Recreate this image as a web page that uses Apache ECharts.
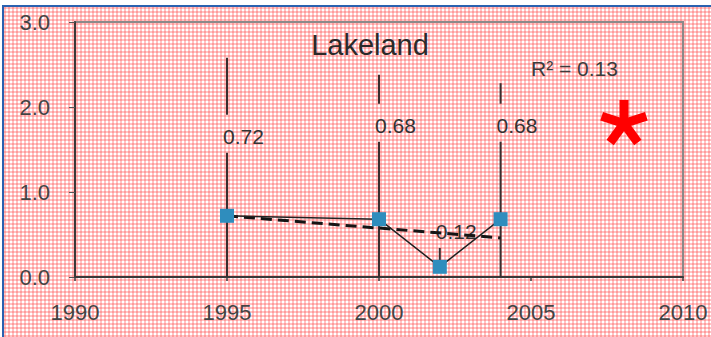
<!DOCTYPE html>
<html>
<head>
<meta charset="utf-8">
<script src="https://cdn.jsdelivr.net/npm/echarts@6/dist/echarts.min.js"></script>
<style>
  html, body { margin: 0; padding: 0; background: #fff; }
  #frame {
    position: absolute; left: 2px; top: 5px; width: 709px; height: 332px;
    border-top: 2px solid #2a62b0; border-left: 2px solid #2a62b0;
    box-sizing: border-box;
    background-color: #fff;
    background-image:
      repeating-linear-gradient(0deg, rgba(255,70,70,0.32) 0 2px, transparent 2px 4px),
      repeating-linear-gradient(90deg, rgba(255,70,70,0.32) 0 2px, transparent 2px 4px);
  }
  #chart { position: absolute; left: 0; top: 0; width: 711px; height: 337px; }
</style>
</head>
<body>
<div id="frame"></div>
<div id="chart"></div>
<script>
// ---- data ----
const years = [1995, 2000, 2002, 2004];
const values = [0.72, 0.68, 0.12, 0.68];
const trendPoints = [[1995, 0.72], [2004, 0.46]];
const dropYears = [1995, 2000, 2002, 2004];
const dropTops = [2.58, 2.38, null, 2.28];
const dropLabelYs = [1.65, 1.78, 0.53, 1.78];
const dropBottoms = [0, 0, 0.2, 0];
const dropLabels = ['0.72', '0.68', '0.12', '0.68'];
const xTicks = [1990, 1995, 2000, 2005, 2010];
const yTicks = ['0.0', '1.0', '2.0', '3.0'];
const titleText = 'Lakeland';
const r2Text = 'R\u00B2 = 0.13';

const FONT = '"Liberation Sans", Arial, sans-serif';
const chart = echarts.init(document.getElementById('chart'), null, { renderer: 'svg' });

// red five-armed asterisk mark (drawn as shapes)
const starCx = 624, starCy = 123.5, armLen = 23.5, armW = 9;
const starArms = [0, 1, 2, 3, 4].map(k => ({
  type: 'rect', z: 10, x: starCx, y: starCy, rotation: -k * 2 * Math.PI / 5,
  shape: { x: -armW / 2, y: -armLen, width: armW, height: armLen },
  style: { fill: '#ff0000' }
}));

chart.setOption({
  backgroundColor: 'transparent',
  animation: false,
  grid: { left: 75, right: 28, top: 22, bottom: 60, show: true, borderColor: '#8a8a8a', borderWidth: 2, backgroundColor: 'transparent' },
  xAxis: {
    type: 'value', min: xTicks[0], max: xTicks[xTicks.length - 1], interval: 5,
    axisLine: { show: true, onZero: false, lineStyle: { color: '#3a3a3a', width: 2 } },
    axisTick: { show: true, length: 4, lineStyle: { color: '#3a3a3a', width: 1.5 } },
    splitLine: { show: false },
    axisLabel: { fontSize: 22, color: '#444', fontFamily: FONT, margin: 24, formatter: v => String(v) }
  },
  yAxis: {
    type: 'value', min: 0, max: 3, interval: 1,
    axisLine: { show: true, lineStyle: { color: '#3a3a3a', width: 2 } },
    axisTick: { show: true, length: 6, lineStyle: { color: '#555', width: 1 } },
    splitLine: { show: false },
    axisLabel: { fontSize: 22, color: '#444', fontFamily: FONT, margin: 25, formatter: v => yTicks[Math.round(v)] }
  },
  graphic: [
    { type: 'text', z: 10,
      style: { text: titleText, x: 370, y: 45, align: 'center', verticalAlign: 'middle', font: '29px ' + FONT, fill: '#2a2a2a' } },
    { type: 'text', z: 10,
      style: { text: r2Text, x: 531, y: 68, align: 'left', verticalAlign: 'middle', font: '21px ' + FONT, fill: '#3c3c3c' } }
  ].concat(starArms),
  series: [
    {
      type: 'custom', z: 3,
      data: dropYears.map((y, i) => [y, dropLabelYs[i]]),
      encode: { x: 0, y: 1 },
      renderItem: function (params, api) {
        const i = params.dataIndex;
        const x = dropYears[i];
        const pL = api.coord([x, dropLabelYs[i]]);
        const pB = api.coord([x, dropBottoms[i]]);
        const children = [];
        const st = { stroke: '#3a2f2f', lineWidth: 2 };
        if (dropTops[i] !== null) {
          const pT = api.coord([x, dropTops[i]]);
          children.push({ type: 'line', shape: { x1: pT[0], y1: pT[1], x2: pT[0], y2: pL[1] - 22 }, style: st });
        }
        children.push({ type: 'line', shape: { x1: pL[0], y1: pL[1] + 16, x2: pL[0], y2: pB[1] }, style: st });
        children.push({ type: 'text', style: { text: dropLabels[i], x: pL[0] - 4, y: pL[1], align: 'left', verticalAlign: 'middle', font: '21px ' + FONT, fill: '#333' } });
        return { type: 'group', children: children };
      }
    },
    {
      type: 'line', z: 4,
      data: trendPoints,
      symbol: 'none',
      lineStyle: { color: '#151515', width: 3, type: [11, 6] }
    },
    {
      type: 'line', z: 5,
      data: years.map((y, i) => [y, values[i]]),
      symbol: 'rect', symbolSize: 14,
      itemStyle: { color: '#2f8dbd' },
      lineStyle: { color: '#222', width: 1.5 }
    }
  ]
});
</script>
</body>
</html>
